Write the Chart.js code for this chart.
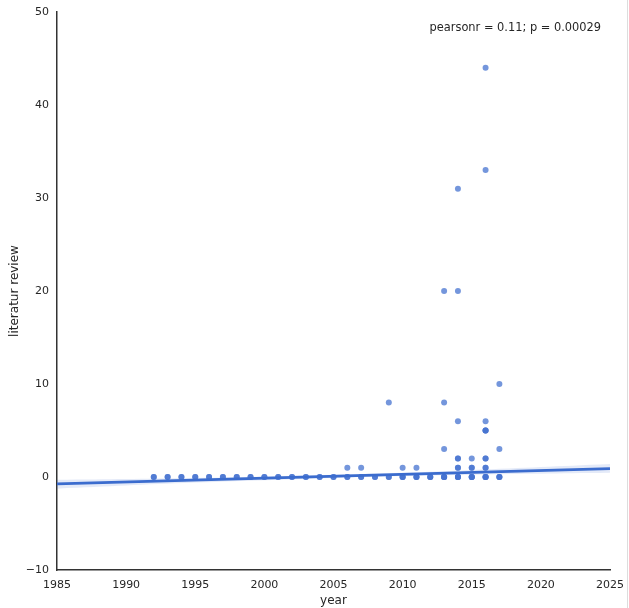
<!DOCTYPE html>
<html><head><meta charset="utf-8">
<script src="https://cdn.jsdelivr.net/npm/chart.js@4/dist/chart.umd.min.js"></script>
<style>
html,body{margin:0;padding:0;background:#fff;}
#wrap{position:relative;width:629px;height:608px;}
#edge{position:absolute;left:627px;top:0;width:1px;height:608px;background:#ddd;}
</style></head>
<body><div id="wrap"><canvas id="c" width="629" height="608"></canvas><div id="edge"></div></div>
<script>
// Scatter data (year, literatur review count); repeated entries = overlapping points
const zeroYears = [1992,1993,1994,1995,1996,1997,1998,1999,2000,2001,2002,2003,2004,2005,2006,2007,2008,2009,2010,2011,2012,2013,2014,2015,2016,2017];
const pointYears  = [2006,2007,2010,2011,2014,2014,2015,2015,2016,2016,2014,2014,2015,2016,2016,2013,2017,2016,2016,2016,2014,2016,2009,2013,2017,2013,2014,2014,2016,2016,
                     2010,2011,2012,2013,2013,2014,2014,2015,2015,2016,2016,2017];
const pointValues = [1,1,1,1,1,1,1,1,1,1,2,2,2,2,2,3,3,5,5,5,6,6,8,8,10,20,20,31,33,44,
                     0,0,0,0,0,0,0,0,0,0,0,0];
// Regression fit and confidence band
const fitYears = [1985, 2025];
const fitValues = [-0.75, 0.9];
const bandYears = [1985, 1995, 2005, 2010, 2015, 2025];
const bandLower = [-1.25, -0.6, -0.1, 0.1, 0.25, 0.45];
const bandUpper = [-0.3, -0.1, 0.25, 0.45, 0.75, 1.4];
const xTicks = [1985,1990,1995,2000,2005,2010,2015,2020,2025];
const yTicks = [-10,0,10,20,30,40,50];
const annotation = 'pearsonr = 0.11; p = 0.00029';

const pts = zeroYears.map(y=>({x:y,y:0})).concat(zeroYears.map(y=>({x:y,y:0})))
  .concat(pointYears.map((y,i)=>({x:y,y:pointValues[i]})));

const font = "'DejaVu Sans', sans-serif";
const annot = {
  id:'annot',
  afterDraw(chart){
    const {ctx, chartArea} = chart;
    ctx.save();
    ctx.font = "11.4px " + font;
    ctx.fillStyle = '#262626';
    ctx.textAlign = 'right';
    ctx.textBaseline = 'middle';
    ctx.fillText(annotation, chartArea.right - 9, 28);
    ctx.restore();
  }
};

new Chart(document.getElementById('c'), {
  type: 'scatter',
  data: {
    datasets: [
      {label:'upper', type:'line', data: bandYears.map((y,i)=>({x:y,y:bandUpper[i]})), borderWidth:0, pointRadius:0, fill:'+1', backgroundColor:'rgba(76,114,208,0.15)', tension:0.4, order:3},
      {label:'lower', type:'line', data: bandYears.map((y,i)=>({x:y,y:bandLower[i]})), borderWidth:0, pointRadius:0, fill:false, tension:0.4, order:3},
      {label:'fit', type:'line', data: fitYears.map((y,i)=>({x:y,y:fitValues[i]})), borderColor:'#3b6cce', borderWidth:2.8, pointRadius:0, fill:false, order:1},
      {label:'pts', data: pts, pointRadius:3, pointHoverRadius:3, borderWidth:0, backgroundColor:'rgba(70,115,208,0.75)', order:2}
    ]
  },
  options: {
    responsive:false, animation:false,
    layout:{padding:{top:12, right:19, left:0, bottom:0}},
    plugins:{legend:{display:false}, tooltip:{enabled:false}},
    scales:{
      x:{type:'linear', min:1985, max:2025,
        afterBuildTicks(s){ s.ticks = xTicks.map(v=>({value:v})); },
        afterFit(s){ s.height = 38; s.paddingLeft = 0; s.paddingRight = 0; },
        grid:{display:false, drawTicks:false},
        border:{display:true, color:'#333', width:1.5},
        ticks:{padding:9, font:{family:font, size:11}, color:'#262626', maxRotation:0, callback:v=>String(v)},
        title:{display:true, text:'year', font:{family:font, size:12}, color:'#262626', padding:{top:4,bottom:0}}
      },
      y:{type:'linear', min:-10, max:50,
        afterBuildTicks(s){ s.ticks = yTicks.map(v=>({value:v})); },
        afterFit(s){ s.width = 57; s.paddingTop = 0; s.paddingBottom = 0; },
        grid:{display:false, drawTicks:false},
        border:{display:true, color:'#333', width:1.5},
        ticks:{padding:8, font:{family:font, size:11}, color:'#262626', callback:v=>(v<0?'\u2212'+Math.abs(v):String(v))},
        title:{display:true, text:'literatur review', font:{family:font, size:12}, color:'#262626', padding:{top:8,bottom:0}}
      }
    }
  },
  plugins:[annot]
});
</script>
</body></html>
